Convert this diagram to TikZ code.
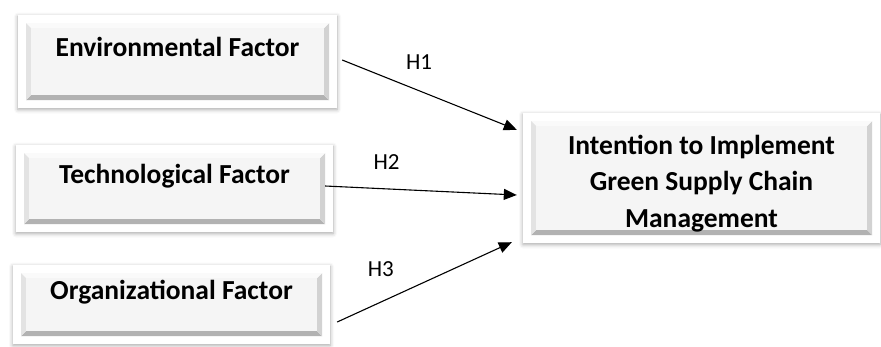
\documentclass[tikz,border=0pt]{standalone}
\usepackage{fontspec}
\setmainfont{Carlito}
\usetikzlibrary{arrows.meta, calc, shadows.blur}

\tikzset{
  bevel/.style={rectangle, inner sep=0pt, fill=white,
    blur shadow={shadow xshift=0pt, shadow yshift=-1.5pt, shadow blur radius=4pt, shadow opacity=35},
    font=\bfseries\fontsize{27.5}{36.5}\selectfont, align=center,
    path picture={
      \coordinate (bvsw) at ([shift={(8pt,8pt)}]path picture bounding box.south west);
      \coordinate (bvne) at ([shift={(-8pt,-8pt)}]path picture bounding box.north east);
      \coordinate (bvse) at (bvsw -| bvne);
      \coordinate (bvnw) at (bvne -| bvsw);
      \fill[gray!60] (bvsw) -- (bvse) -- ([shift={(-5pt,5pt)}]bvse) -- ([shift={(5pt,5pt)}]bvsw) -- cycle;
      \fill[gray!35] (bvse) -- (bvne) -- ([shift={(-5pt,-5pt)}]bvne) -- ([shift={(-5pt,5pt)}]bvse) -- cycle;
      \fill[gray!4] (bvnw) -- (bvne) -- ([shift={(-5pt,-5pt)}]bvne) -- ([shift={(5pt,-5pt)}]bvnw) -- cycle;
      \fill[gray!22] (bvsw) -- (bvnw) -- ([shift={(5pt,-5pt)}]bvnw) -- ([shift={(5pt,5pt)}]bvsw) -- cycle;
      \fill[gray!8] ([shift={(5pt,5pt)}]bvsw) rectangle ([shift={(-5pt,-5pt)}]bvne);
    }},
  factor/.style={bevel, text height=0pt, text depth=10pt},
  outcome/.style={bevel, text height=98pt, text depth=0pt},
  hyp/.style={line width=1.1pt, -{Triangle[length=13pt, width=11pt]}},
  hlabel/.style={font=\fontsize{23}{28}\selectfont, inner sep=0pt}
}

\begin{document}
\begin{tikzpicture}[x=1pt, y=-1pt]
  \useasboundingbox (0,0) rectangle (881,346);

  % factors
  \node[factor, minimum width=319pt, minimum height=93pt] (env) at (177.5,61.5) {Environmental Factor};
  \node[factor, minimum width=317pt, minimum height=87pt] (tech) at (174.5,188.5) {Technological Factor};
  \node[factor, minimum width=317pt, minimum height=79pt] (org) at (171.5,304.5) {Organizational Factor};

  % outcome
  \node[outcome, minimum width=357pt, minimum height=130pt] (intent) at (701.5,178)
    {Intention to Implement\\Green Supply Chain\\Management};

  % hypotheses
  \draw[hyp] ($(env.east)+(5,-1.5)$) -- ($(intent.north west)+(-6,17)$)
    node[hlabel, pos=0.44, above=21pt] (h1) {H1};
  \draw[hyp] ($(tech.east)+(-8,-2.5)$) -- ($(intent.west)+(-6,17)$)
    node[hlabel, pos=0.32, above=19pt] (h2) {H2};
  \draw[hyp] ($(org.east)+(7,17.5)$) -- ($(intent.south west)+(-11,-1)$)
    node[hlabel, pos=0.25, above=25pt] (h3) {H3};
\end{tikzpicture}
\end{document}
